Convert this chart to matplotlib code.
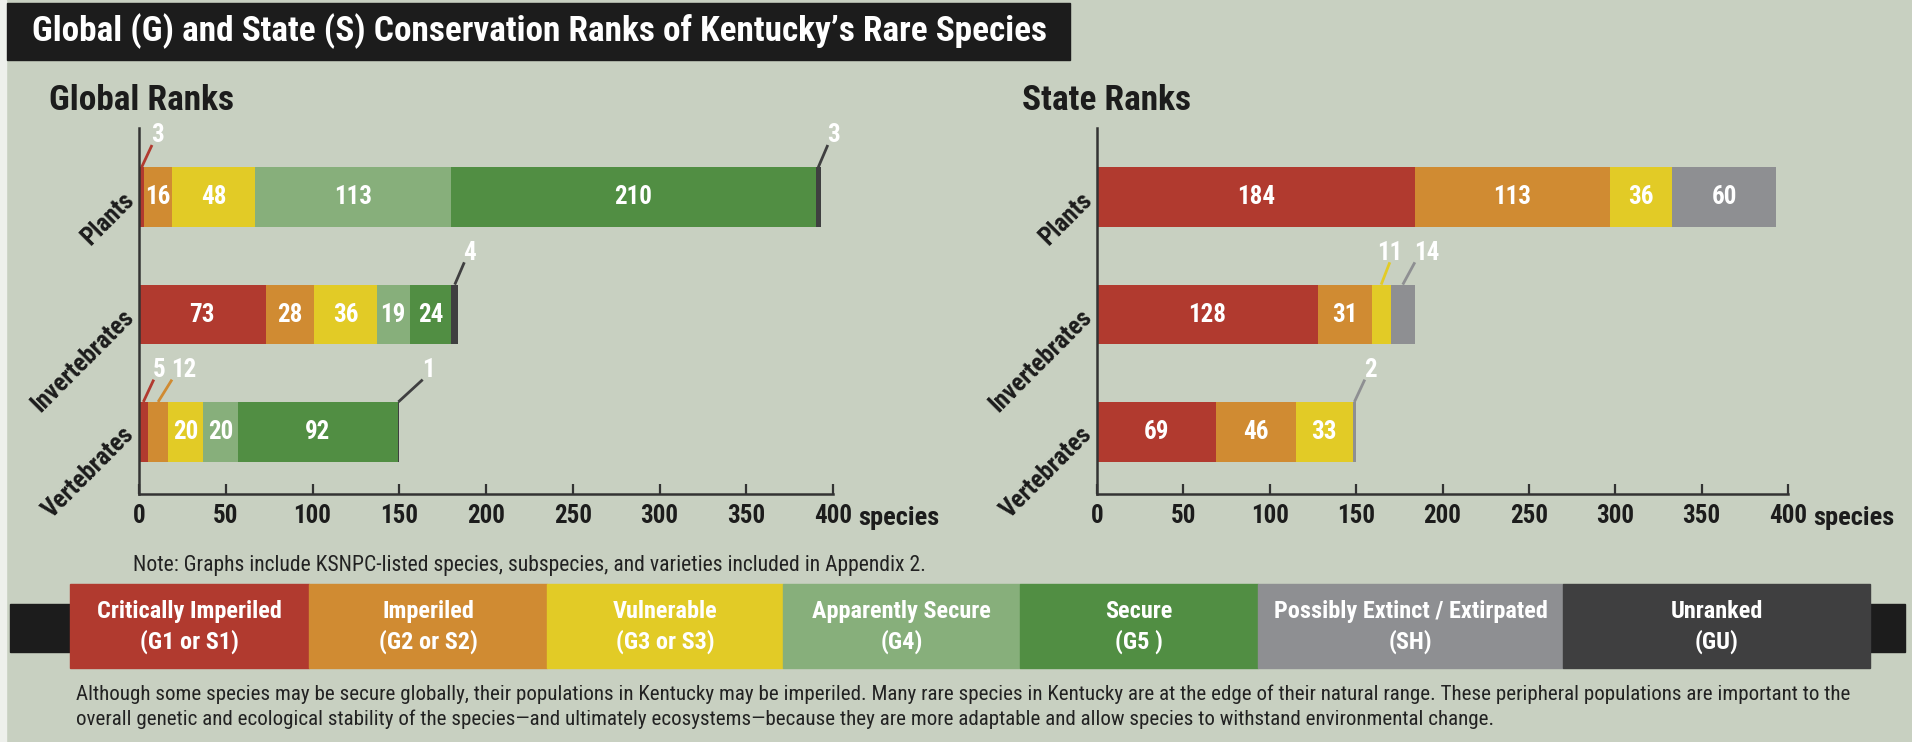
import matplotlib
matplotlib.use('Agg')
import matplotlib.pyplot as plt
import matplotlib.patches as mpatches
from matplotlib import font_manager

W, H = 1912, 742

CATEGORIES = ['Plants', 'Invertebrates', 'Vertebrates']
RANK_LABELS = ['Critically Imperiled\n(G1 or S1)', 'Imperiled\n(G2 or S2)',
               'Vulnerable\n(G3 or S3)', 'Apparently Secure\n(G4)', 'Secure\n(G5 )',
               'Possibly Extinct / Extirpated\n(SH)', 'Unranked\n(GU)']
RANK_COLORS = ['#b13a2f', '#d08b32', '#e2cb26', '#87af7b', '#518e43', '#8e8f92', '#3f3f40']

# columns: G1/S1, G2/S2, G3/S3, G4, G5, SH, GU
GLOBAL_PLANTS = [3, 16, 48, 113, 210, 0, 3]
GLOBAL_INVERTEBRATES = [73, 28, 36, 19, 24, 0, 4]
GLOBAL_VERTEBRATES = [5, 12, 20, 20, 92, 0, 1]
STATE_PLANTS = [184, 113, 36, 0, 0, 60, 0]
STATE_INVERTEBRATES = [128, 31, 11, 0, 0, 14, 0]
STATE_VERTEBRATES = [69, 46, 33, 0, 0, 2, 0]
XTICKS = [0, 50, 100, 150, 200, 250, 300, 350, 400]

# leader-line callouts for small segments: (row, column) -> (dx, label alignment)
GLOBAL_CALLOUTS = {(0, 0): (6, 'left'), (0, 6): (5.5, 'left'), (1, 6): (5.5, 'left'),
                   (2, 0): (6, 'left'), (2, 1): (8, 'left'), (2, 6): (14, 'left')}
STATE_CALLOUTS = {(1, 2): (5, 'center'), (1, 5): (7, 'left'), (2, 5): (6, 'left')}

BG = '#c8d0c1'
AXIS_COLOR = '#333333'
INK = '#1c1c1c'

# pick a condensed family if one is installed
names = {f.name for f in font_manager.fontManager.ttflist}
FONT = 'DejaVu Sans'
for cand in ['Roboto Condensed', 'Liberation Sans Narrow', 'Open Sans Condensed']:
    if cand in names:
        FONT = cand
        break
plt.rcParams['font.family'] = [FONT, 'DejaVu Sans']
plt.rcParams['font.stretch'] = 'condensed'

fig = plt.figure(figsize=(W / 100, H / 100), dpi=100, facecolor=BG)


def fx(x):
    return x / W


def fy(y):
    return 1 - y / H


def fit_width(txt, width_px):
    r = fig.canvas.get_renderer()
    bb = txt.get_window_extent(r)
    txt.set_fontsize(txt.get_fontsize() * width_px / bb.width)


def draw_chart(rect, title, title_x, rows, callouts):
    ax = fig.add_axes(rect)
    ax.set_facecolor('none')
    for i, vals in enumerate(rows):
        left = 0
        for j, v in enumerate(vals):
            if v == 0:
                continue
            ax.barh(i, v, left=left, height=0.51, color=RANK_COLORS[j], edgecolor='none')
            xc = left + v / 2
            if (i, j) in callouts:
                dx, ha = callouts[(i, j)]
                top = i - 0.255
                ax.plot([xc, xc + dx], [top, top - 0.19], color=RANK_COLORS[j],
                        lw=2, clip_on=False, solid_capstyle='butt')
                ax.text(xc + dx - (0 if ha == 'center' else 0.5), top - 0.17, str(v),
                        ha=ha, va='bottom', color='white', fontsize=18, fontweight='bold')
            else:
                ax.text(xc, i, str(v), ha='center', va='center', color='white',
                        fontsize=18, fontweight='bold')
            left += v
    ax.set_xlim(0, 400)
    ax.set_ylim(2.53, -0.59)
    ax.set_yticks([])
    ax.set_xticks(XTICKS)
    ax.tick_params(axis='x', direction='in', length=7, width=1.6, pad=7,
                   colors=AXIS_COLOR, labelcolor=INK, labelsize=18)
    for lab in ax.get_xticklabels():
        lab.set_fontweight('bold')
    for s in ['top', 'right']:
        ax.spines[s].set_visible(False)
    for s in ['left', 'bottom']:
        ax.spines[s].set_color(AXIS_COLOR)
        ax.spines[s].set_linewidth(1.8)
    ax.annotate('species', xy=(1, 0), xycoords='axes fraction', xytext=(18, -22.5),
                textcoords='offset points', ha='left', va='baseline',
                fontsize=19, fontweight='bold', color=INK)
    for i, cat in enumerate(CATEGORIES):
        ax.annotate(cat, xy=(0, i + 0.03), xycoords=ax.get_yaxis_transform(),
                    xytext=(-2.5, 0), textcoords='offset points',
                    rotation=45, rotation_mode='anchor', ha='right', va='baseline',
                    fontsize=18, fontweight='bold', color=INK)
    fig.text(fx(title_x), fy(100), title, ha='left', va='center', fontsize=25.5,
             fontweight='bold', color=INK)
    return ax


# white strip at the left edge and title bar
fig.add_artist(mpatches.Rectangle((0, 0), fx(6), 1, transform=fig.transFigure,
                                  color='#eef0ec'))
fig.add_artist(mpatches.Rectangle((fx(7), fy(60)), fx(1063), 57 / H,
                                  transform=fig.transFigure, color=INK))
t = fig.text(fx(32), fy(31), "Global (G) and State (S) Conservation Ranks of Kentucky\u2019s Rare Species",
             ha='left', va='center', color='white', fontsize=24, fontweight='bold')
fit_width(t, 1020)

draw_chart([fx(139), fy(494), (833 - 139) / W, 366 / H], 'Global Ranks', 49,
           [GLOBAL_PLANTS, GLOBAL_INVERTEBRATES, GLOBAL_VERTEBRATES], GLOBAL_CALLOUTS)
draw_chart([fx(1097), fy(494), (1788 - 1097) / W, 366 / H], 'State Ranks', 1022,
           [STATE_PLANTS, STATE_INVERTEBRATES, STATE_VERTEBRATES], STATE_CALLOUTS)

t = fig.text(fx(133), fy(565), 'Note: Graphs include KSNPC-listed species, subspecies, '
             'and varieties included in Appendix 2.', ha='left', va='center',
             fontsize=12, color='#222222')
fit_width(t, 795)

# legend band
fig.add_artist(mpatches.Rectangle((fx(10), fy(652)), fx(1895), 48 / H,
                                  transform=fig.transFigure, color=INK))
edges = [70, 309, 547, 783, 1020, 1258, 1563, 1870]
for k, lab in enumerate(RANK_LABELS):
    fig.add_artist(mpatches.Rectangle((fx(edges[k]), fy(668)), fx(edges[k + 1] - edges[k]),
                                      84 / H, transform=fig.transFigure,
                                      color=RANK_COLORS[k]))
    fig.text(fx((edges[k] + edges[k + 1]) / 2), fy(627), lab, ha='center', va='center',
             color='white', fontsize=17.5, fontweight='bold', linespacing=1.3)

line1 = ('Although some species may be secure globally, their populations in Kentucky may be '
         'imperiled. Many rare species in Kentucky are at the edge of their natural range. '
         'These peripheral populations are important to the')
line2 = ('overall genetic and ecological stability of the species\u2014and ultimately '
         'ecosystems\u2014because they are more adaptable and allow species to withstand '
         'environmental change.')
t1 = fig.text(fx(76), fy(694), line1, ha='left', va='center', fontsize=12, color='#222222')
fit_width(t1, 1773)
t2 = fig.text(fx(76), fy(719), line2, ha='left', va='center', fontsize=t1.get_fontsize(),
              color='#222222')

fig.savefig('out.png', dpi=100, facecolor=BG)
